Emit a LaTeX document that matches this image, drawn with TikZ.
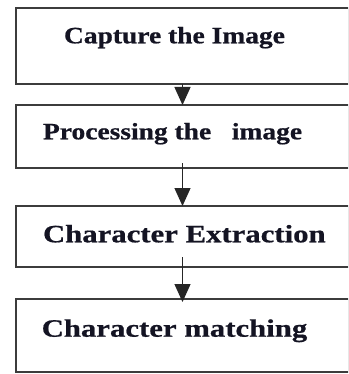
\documentclass[tikz,border=0pt]{standalone}
\usepackage{fontspec}
\usepackage{graphicx}
\setmainfont{Liberation Serif}[BoldFeatures={FakeBold=0.6}]
\usetikzlibrary{arrows.meta}
\definecolor{boxline}{RGB}{60,60,60}
\definecolor{textc}{RGB}{20,20,35}
\tikzset{
  box/.style={draw=boxline, line width=1.3pt, rectangle, inner sep=0pt, outer sep=0pt, minimum width=333pt},
  lbl/.style={anchor=base west, inner sep=0pt, outer sep=0pt, text=textc, font=\bfseries},
  flow/.style={draw=black!85, line width=1.3pt, -{Triangle[width=16pt,length=18pt]}}
}
\newcommand{\smallt}[1]{\fontsize{23.5}{28}\selectfont\scalebox{1.17}[1]{#1}}
\newcommand{\bigt}[1]{\fontsize{25}{30}\selectfont\scalebox{1.23}[1]{#1}}
\begin{document}
\begin{tikzpicture}[x=1pt,y=1pt]
\useasboundingbox (0,0) rectangle (348,-374);
\fill[white] (0,0) rectangle (348,-374);
\clip (0,0) rectangle (348,-374);
\node[box, minimum height=76pt] (b1) at (182.5,-46) {};
\node[box, minimum height=63pt] (b2) at (182.5,-136.5) {};
\node[box, minimum height=61pt] (b3) at (182.5,-236.5) {};
\node[box, minimum height=73pt] (b4) at (182.5,-335.5) {};
\node[lbl] (t1) at (64,-43.3) {\smallt{Capture the Image}};
\node[lbl] (t2) at (43,-139.3) {\smallt{Processing the\ \ \ image}};
\node[lbl] (t3) at (43,-242.3) {\bigt{Character Extraction}};
\node[lbl] (t4) at (41.7,-336.7) {\bigt{Character matching}};
\draw[flow] (b1.south) -- (b2.north);
\draw[flow] ([yshift=5pt]b2.south) -- (b3.north);
\draw[flow] ([yshift=10pt]b3.south) -- ([yshift=-3pt]b4.north);
\end{tikzpicture}
\end{document}
